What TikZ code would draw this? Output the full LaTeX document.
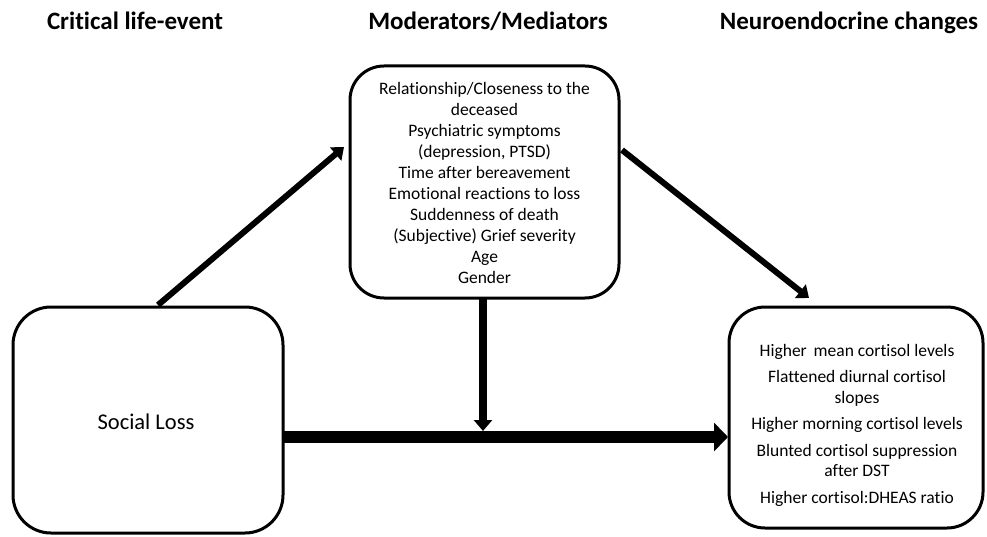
\documentclass[tikz,border=0pt]{standalone}
\usepackage{fontspec}
\setmainfont{Carlito}[Ligatures=NoCommon]
\usetikzlibrary{arrows.meta}
\begin{document}
\begin{tikzpicture}[x=1pt,y=-1pt,
  head/.style={font=\fontsize{25}{30}\selectfont\bfseries,anchor=base,inner sep=0pt},
  txt/.style={font=\fontsize{17.5}{21}\selectfont,inner sep=0pt},
  frame/.style={line width=3pt},
  diag/.style={line width=6pt,-{Triangle[length=11pt,width=17pt]}},
]
\useasboundingbox (0,0) rectangle (987,537);
\node[head] (h1) at (135,30) {Critical life-event};
\node[head] (h2) at (488,30) {Moderators/Mediators};
\node[head] (h3) at (849,30) {Neuroendocrine changes};

\draw[frame,rounded corners=38pt] (13,307) rectangle (283,533);
\node[font=\fontsize{22.5}{27}\selectfont,inner sep=0pt] (sl) at (146,422) {Social Loss};

\draw[frame,rounded corners=34pt] (350,66) rectangle (619,298);
\node[txt,align=center] (mm) at (484.5,183)
 {Relationship/Closeness to the\\deceased\\Psychiatric symptoms\\(depression, PTSD)\\Time after bereavement\\Emotional reactions to loss\\Suddenness of death\\(Subjective) Grief severity\\Age\\Gender};

\draw[frame,rounded corners=36pt] (729,307) rectangle (983,528);
\node[font=\fontsize{17.5}{20.5}\selectfont,inner sep=0pt,align=center] (ne) at (857,425)
 {Higher\, mean cortisol levels\\[6pt]Flattened diurnal cortisol\\slopes\\[6pt]Higher morning cortisol levels\\[6pt]Blunted cortisol suppression\\after DST\\[6pt]Higher cortisol:DHEAS ratio};

\coordinate (a1s) at (158,305);
\coordinate (a1e) at (344,147);
\draw[diag] (a1s) -- (a1e);
\coordinate (a2s) at (622,150);
\coordinate (a2e) at (809,298);
\draw[diag] (a2s) -- (a2e);

\coordinate (bs) at (283,437);
\coordinate (be) at (728,437);
\draw[line width=12pt,-{Triangle[length=14pt,width=28pt]}] (bs) -- (be);

\coordinate (vs) at (483,298);
\coordinate (ve) at (483,431);
\draw[line width=8pt,-{Triangle[length=11pt,width=18pt]}] (vs) -- (ve);
\end{tikzpicture}
\end{document}
